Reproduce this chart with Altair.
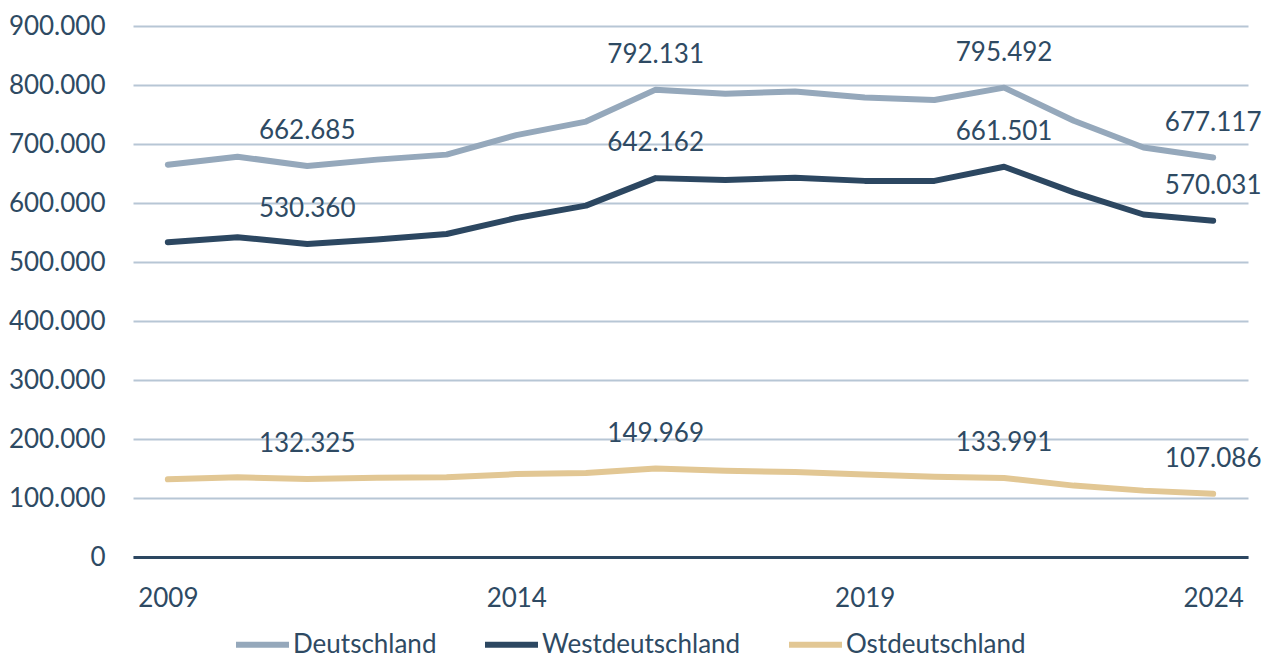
import altair as alt
import pandas as pd

years = list(range(2009, 2025))
deutschland = [665000, 678500, 662685, 673500, 682000, 715000, 738000, 792131,
               785000, 789000, 779000, 774500, 795492, 739500, 694000, 677117]
westdeutschland = [533500, 542000, 530360, 538000, 547500, 574500, 595500, 642162,
                   639000, 643000, 637500, 637500, 661501, 618000, 580500, 570031]
ostdeutschland = [131600, 135000, 132325, 134500, 135000, 140500, 142400, 149969,
                  146000, 144000, 140000, 136000, 133991, 121000, 112500, 107086]
label_years = [2011, 2016, 2021, 2024]
series_names = ["Deutschland", "Westdeutschland", "Ostdeutschland"]
series_colors = ["#95A8BB", "#2C4761", "#E2C794"]
y_ticks = [0, 100000, 200000, 300000, 400000, 500000, 600000, 700000, 800000, 900000]
x_ticks = [2009, 2014, 2019, 2024]

rows = []
for name, vals in zip(series_names, [deutschland, westdeutschland, ostdeutschland]):
    for yr, v in zip(years, vals):
        rows.append({"Jahr": yr, "Region": name, "Wert": v,
                     "Label": f"{v:,}".replace(",", "."),
                     "Show": yr in label_years})
df = pd.DataFrame(rows)

TXT = "#2E4A63"
FONT = "Lato"

x_enc = alt.X("Jahr:Q",
              scale=alt.Scale(domain=[2008.5, 2024.5], nice=False, zero=False),
              axis=alt.Axis(values=x_ticks, format="d", title=None, grid=False,
                            ticks=False, domain=True, domainColor="#2C4761",
                            domainWidth=3, labelPadding=28, labelFontSize=26,
                            labelColor=TXT, labelFont=FONT))
y_enc = alt.Y("Wert:Q",
              scale=alt.Scale(domain=[0, 900000], nice=False),
              axis=alt.Axis(values=y_ticks, title=None, domain=False, ticks=False,
                            grid=True, gridColor="#B7C6D5", gridWidth=2,
                            labelPadding=28, labelFontSize=26, labelColor=TXT,
                            labelFont=FONT,
                            labelExpr="replace(format(datum.value, ','), ',', '.')"))
color_enc = alt.Color("Region:N",
                      scale=alt.Scale(domain=series_names, range=series_colors),
                      sort=series_names,
                      legend=alt.Legend(title=None, orient="none", direction="horizontal",
                                        legendX=100, legendY=589,
                                        symbolType="stroke", symbolStrokeWidth=6,
                                        symbolSize=2809, labelFontSize=26,
                                        labelColor=TXT, labelFont=FONT, labelLimit=400,
                                        labelOffset=1, columnPadding=36, padding=0))

lines = alt.Chart(df).mark_line(strokeWidth=6, strokeCap="round",
                                strokeJoin="round").encode(
    x=x_enc, y=y_enc, color=color_enc, order="Jahr:Q")

labels = alt.Chart(df).transform_filter("datum.Show").mark_text(
    dy=-35, fontSize=26, font=FONT, color=TXT, align="center", baseline="middle"
).encode(x="Jahr:Q", y="Wert:Q", text="Label:N")

chart = (lines + labels).properties(
    width=1115, height=531,
    autosize=alt.AutoSizeParams(type="none"),
    padding={"left": 125, "top": 18, "right": 14, "bottom": 101},
).configure_view(stroke=None)

chart.save("out.html", embed_options={"renderer": "svg", "actions": False})
